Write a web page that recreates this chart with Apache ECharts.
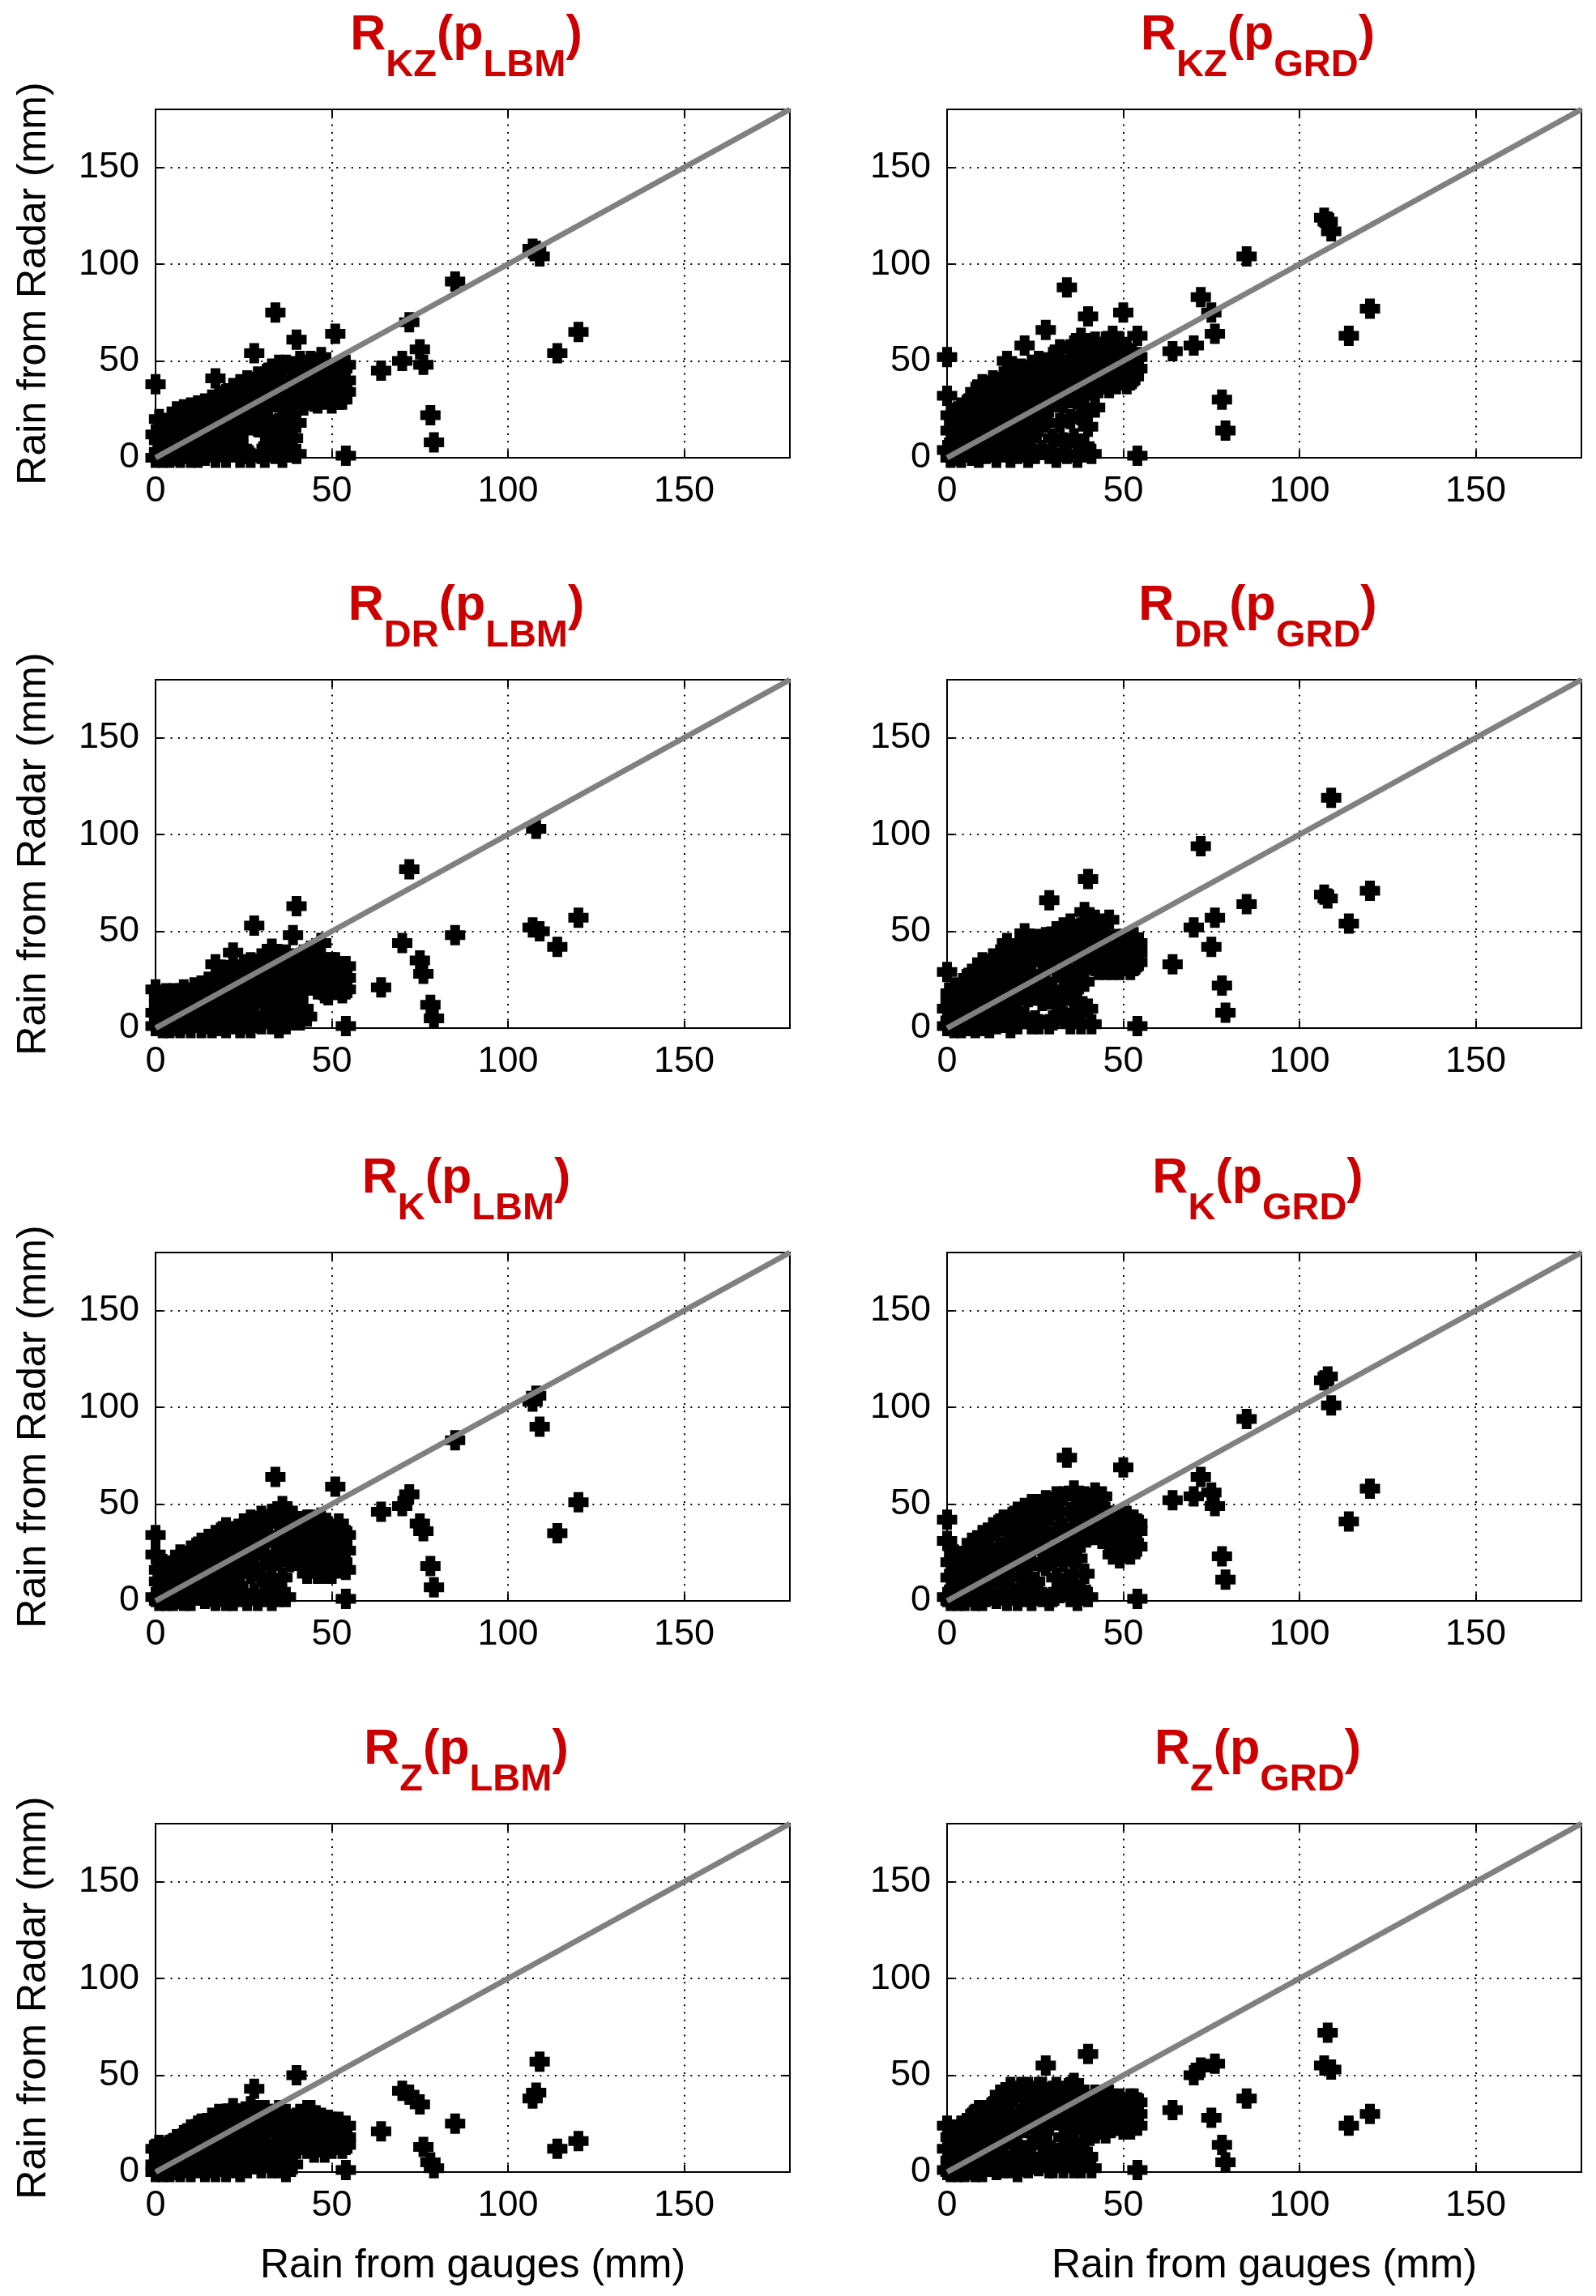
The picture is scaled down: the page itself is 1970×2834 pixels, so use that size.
<!DOCTYPE html>
<html>
<head>
<meta charset="utf-8">
<script src="https://cdn.jsdelivr.net/npm/echarts@6/dist/echarts.min.js"></script>
<style>html,body{margin:0;padding:0;background:#fff;}#chart{width:1970px;height:2834px;}</style>
</head>
<body>
<div id="chart"></div>
<script>
// Gauge rain (mm), shared by all panels (three gauges per mm value in the dense part, then outliers)
const gauges = [
  0,0,0, 1,1,1, 2,2,2, 3,3,3, 4,4,4, 5,5,5, 6,6,6, 7,7,7, 8,8,8, 9,9,9,
  10,10,10, 11,11,11, 12,12,12, 13,13,13, 14,14,14, 15,15,15, 16,16,16, 17,17,17, 18,18,18, 19,19,19,
  20,20,20, 21,21,21, 22,22,22, 23,23,23, 24,24,24, 25,25,25, 26,26,26, 27,27,27, 28,28,28, 29,29,29,
  30,30,30, 31,31,31, 32,32,32, 33,33,33, 34,34,34, 35,35,35, 36,36,36, 37,37,37, 38,38,38, 39,39,39,
  40,40,40, 41,41,41, 42,42,42, 43,43,43, 44,44,44, 45,45,45, 46,46,46, 47,47,47, 48,48,48, 49,49,49,
  50,50,50, 51,51,51, 52,52,52, 53,53,53, 54,54,54,
  54,64,70,72,75,76,78,79,85,107,108,109,114,120
];
// Radar rain (mm) per panel, same order as gauges
const radarKzLbm = [
  38,12,0, 3,20,9, 15,0,6, 18,10,2, 4,14,0, 20,8,1, 12,24,3, 0,17,8, 25,6,14, 2,20,11,
  16,0,26, 8,22,4, 27,13,0, 5,18,24, 10,1,28, 22,14,4, 30,8,18, 41,0,24, 12,32,3, 26,6,18,
  0,33,14, 22,9,30, 36,3,16, 11,26,32, 0,20,38, 35,14,4, 2,24,40, 30,18,0, 54,38,22, 16,30,42,
  2,26,40, 34,13,0, 44,20,6, 46,12,30, 75,38,2, 18,48,8, 40,26,0, 48,14,32, 4,36,22, 45,10,28,
  61,2,18, 40,50,30, 44,34,27, 48,38,30, 32,42,50, 36,47,29, 28,44,38, 52,34,42, 30,46,38, 40,33,45,
  28,36,46, 64,40,32, 44,30,38, 36,46,30, 48,40,34,
  1,45,50,70,56,48,22,8,91,108,107,104,54,65
];
const radarKzGrd = [
  52,32,4, 14,0,22, 8,18,1, 24,4,12, 0,16,26, 10,22,3, 28,6,15, 1,20,30, 12,34,5, 24,0,18,
  8,32,38, 16,2,26, 36,11,22, 4,28,40, 18,0,34, 10,26,38, 42,3,20, 50,14,30, 0,24,44, 34,8,18,
  2,40,28, 22,46,12, 58,30,6, 0,38,18, 48,24,10, 34,2,44, 16,50,28, 4,40,22, 66,34,18, 48,26,2,
  10,38,52, 30,0,44, 56,18,36, 8,48,28, 88,40,2, 20,56,34, 58,10,44, 30,50,0, 62,22,40, 6,54,32,
  73,16,46, 2,58,38, 48,60,26, 40,52,36, 56,44,38, 60,40,50, 46,58,36, 63,42,52, 38,56,46, 44,60,40,
  75,50,42, 56,46,38, 40,54,48, 50,42,44, 63,46,52,
  1,55,58,83,75,64,30,14,104,124,122,117,63,77
];
const radarDrLbm = [
  20,8,1, 12,3,16, 0,10,5, 14,2,18, 7,16,0, 11,3,18, 1,14,7, 18,9,0, 5,20,12, 15,2,8,
  0,17,11, 21,6,13, 3,15,19, 10,0,22, 17,5,12, 2,24,9, 14,22,0, 33,6,18, 1,25,12, 20,8,28,
  0,16,26, 10,30,4, 39,20,2, 13,27,6, 30,0,18, 8,33,22, 2,15,28, 25,34,0, 53,20,14, 4,30,16,
  36,24,2, 12,31,20, 26,6,35, 41,16,2, 28,10,36, 0,22,38, 32,14,6, 38,24,2, 18,30,10, 48,4,36,
  63,22,12, 32,26,4, 38,20,10, 28,36,6, 40,30,22, 34,26,38, 20,32,28, 44,24,30, 26,34,18, 30,17,24,
  22,34,28, 34,20,26, 28,22,32, 30,18,24, 26,32,20,
  1,21,44,82,35,28,12,5,48,52,103,50,42,57
];
const radarDrGrd = [
  29,10,1, 18,4,14, 0,21,8, 12,2,19, 6,16,0, 22,10,3, 1,26,14, 18,6,28, 9,0,22, 30,14,4,
  34,20,1, 8,26,14, 0,32,18, 24,6,36, 12,30,2, 38,20,8, 4,28,36, 44,14,24, 0,34,18, 26,8,40,
  14,38,2, 30,20,42, 49,6,26, 16,36,44, 2,28,40, 42,18,4, 24,46,2, 34,14,40, 47,24,16, 66,36,2,
  44,20,4, 30,50,12, 14,40,48, 52,26,6, 36,46,18, 54,2,28, 20,44,8, 48,30,14, 40,2,52, 60,24,34,
  77,10,44, 52,38,2, 46,32,56, 40,50,30, 54,36,44, 48,30,40, 56,42,34, 30,44,38, 40,32,46, 30,42,36,
  36,46,32, 44,34,40, 34,42,30, 47,38,32, 39,44,34,
  1,33,52,94,42,57,22,8,64,69,67,119,54,71
];
const radarKLbm = [
  34,24,2, 10,0,16, 5,19,12, 0,14,7, 18,3,10, 15,8,0, 1,21,12, 16,5,24, 9,0,19, 22,14,3,
  0,26,10, 18,6,24, 3,28,14, 30,10,20, 1,16,26, 32,7,20, 12,28,2, 24,34,0, 6,18,30, 36,12,2,
  24,0,38, 16,30,6, 36,22,0, 8,28,34, 33,14,2, 40,20,4, 0,30,38, 42,14,24, 32,4,18, 38,26,0,
  44,12,30, 24,40,2, 10,34,42, 45,18,0, 64,30,8, 22,40,2, 49,12,32, 36,2,44, 28,40,20, 44,24,34,
  40,30,22, 32,24,38, 38,28,18, 30,42,14, 42,20,34, 20,36,28, 36,14,26, 43,22,30, 14,34,26, 28,18,38,
  22,30,14, 59,24,34, 18,28,40, 30,20,36, 26,34,16,
  1,46,49,55,40,36,18,7,83,103,106,90,35,51
];
const radarKGrd = [
  42,31,2, 12,0,20, 6,24,14, 0,18,9, 22,4,14, 19,10,0, 2,26,14, 20,7,30, 12,0,24, 29,16,4,
  0,34,20, 26,10,2, 4,34,18, 38,12,24, 1,22,36, 40,9,28, 16,42,3, 30,0,36, 12,40,24, 44,4,30,
  20,46,0, 34,12,44, 2,28,48, 40,18,6, 50,26,0, 36,10,46, 4,30,50, 42,20,2, 52,34,18, 0,44,26,
  50,22,2, 36,12,54, 28,46,4, 54,20,38, 74,32,8, 46,2,26, 57,36,14, 22,44,0, 50,30,6, 40,14,54,
  34,2,48, 46,36,52, 40,56,34, 50,38,44, 42,32,54, 36,46,40, 30,44,38, 38,24,44, 28,40,34, 22,36,44,
  69,30,40, 44,26,36, 32,42,24, 42,30,36, 36,28,40,
  1,52,54,64,56,49,23,11,94,114,116,101,41,58
];
const radarZLbm = [
  12,4,0, 8,14,2, 0,10,5, 13,3,8, 6,0,14, 15,9,2, 1,12,17, 8,0,16, 19,4,11, 2,14,20,
  10,22,0, 17,6,12, 2,20,24, 25,9,14, 12,0,20, 5,24,16, 28,10,2, 20,0,27, 14,30,4, 24,9,18,
  0,30,14, 26,6,20, 33,16,2, 10,26,30, 0,18,27, 30,8,22, 2,26,16, 34,12,24, 43,28,4, 18,32,8,
  2,24,30, 14,32,20, 26,6,30, 28,12,2, 30,20,8, 2,24,32, 26,14,6, 30,20,0, 10,26,18, 27,4,22,
  50,12,28, 30,22,14, 28,18,24, 24,32,12, 32,20,26, 18,28,10, 26,14,22, 22,28,16, 16,24,10, 27,18,22,
  20,12,26, 14,24,18, 26,16,22, 22,12,18, 18,24,14,
  1,21,42,40,35,13,5,2,25,38,41,57,12,16
];
const radarZGrd = [
  24,12,1, 6,18,0, 14,2,22, 0,10,19, 24,5,14, 15,0,8, 1,22,12, 28,6,16, 12,0,30, 20,32,4,
  0,26,14, 32,8,20, 3,28,16, 34,12,22, 1,36,18, 8,28,40, 36,16,2, 40,22,6, 2,30,44, 14,38,24,
  0,42,20, 44,8,30, 10,38,24, 26,2,44, 34,14,42, 40,4,22, 3,30,44, 44,18,8, 55,36,14, 24,2,40,
  42,28,2, 10,34,44, 28,8,40, 42,18,2, 38,28,6, 44,14,30, 46,2,22, 36,10,28, 2,24,40, 40,16,32,
  61,8,36, 36,26,2, 40,30,20, 28,38,22, 38,26,32, 28,36,20, 34,24,40, 32,24,38, 24,34,28, 38,30,24,
  28,36,22, 36,26,32, 22,30,38, 38,26,32, 30,36,24,
  1,32,50,54,28,56,14,5,38,55,72,53,24,30
];
const panelRadar = [radarKzLbm, radarKzGrd, radarDrLbm, radarDrGrd, radarKLbm, radarKGrd, radarZLbm, radarZGrd];
const titleMain = ['KZ','KZ','DR','DR','K','K','Z','Z'];
const titleSub = ['LBM','GRD','LBM','GRD','LBM','GRD','LBM','GRD'];
const oneToOne = [[0,0],[180,180]];
const xAxisName = 'Rain from gauges (mm)';
const yAxisName = 'Rain from Radar (mm)';

const FONT = 'Liberation Sans, Arial, Helvetica, sans-serif';
const colLeft = [192, 1169];
const rowTop = [135, 839, 1546, 2251];
const W = 783, H = 430;
const plusPath = 'path://M2.6,0H7.4V2.6H10V7.4H7.4V10H2.6V7.4H0V2.6H2.6Z';

const grids = [], xAxes = [], yAxes = [], series = [], titles = [];
for (let i = 0; i < 8; i++) {
  const col = i % 2, row = Math.floor(i / 2);
  grids.push({left: colLeft[col], top: rowTop[row], width: W, height: H,
    show: true, borderColor: '#000', borderWidth: 2, backgroundColor: 'rgba(0,0,0,0)'});
  const tick = {show: true, inside: true, length: 9, lineStyle: {color: '#000', width: 2}};
  const line = {show: true, onZero: false, lineStyle: {color: '#000', width: 2}};
  const lbl = {show: true, fontSize: 45, color: '#000', fontFamily: FONT,
    showMaxLabel: false, formatter: v => (v === 180 ? '' : String(v))};
  const split = {show: true, lineStyle: {color: '#000', width: 2, type: [2, 7.3]}};
  xAxes.push({gridIndex: i, type: 'value', min: 0, max: 180, interval: 50, position: 'bottom',
    axisLine: line, axisTick: tick, axisLabel: Object.assign({margin: 19}, lbl), splitLine: split,
    name: row === 3 ? xAxisName : '', nameLocation: 'middle', nameGap: 91,
    nameTextStyle: {fontSize: 50, color: '#000', fontFamily: FONT}});
  xAxes.push({gridIndex: i, type: 'value', min: 0, max: 180, interval: 50, position: 'top',
    axisLine: line, axisTick: tick, axisLabel: {show: false}, splitLine: {show: false}});
  yAxes.push({gridIndex: i, type: 'value', min: 0, max: 180, interval: 50, position: 'left',
    axisLine: line, axisTick: tick, axisLabel: Object.assign({margin: 20}, lbl), splitLine: split,
    name: col === 0 ? yAxisName : '', nameLocation: 'middle', nameGap: 125,
    nameTextStyle: {fontSize: 50, color: '#000', fontFamily: FONT}});
  yAxes.push({gridIndex: i, type: 'value', min: 0, max: 180, interval: 50, position: 'right',
    axisLine: line, axisTick: tick, axisLabel: {show: false}, splitLine: {show: false}});
  const radar = panelRadar[i];
  series.push({type: 'scatter', xAxisIndex: 2 * i, yAxisIndex: 2 * i,
    data: gauges.map((g, k) => [g, radar[k]]),
    symbol: plusPath, symbolSize: 25, itemStyle: {color: '#000', opacity: 1}, z: 2, silent: true});
  series.push({type: 'line', xAxisIndex: 2 * i, yAxisIndex: 2 * i, data: oneToOne,
    symbol: 'none', lineStyle: {color: '#808080', width: 7}, z: 3, silent: true});
  titles.push({text: '{r|R}{s|' + titleMain[i] + '}{r|(p}{s|' + titleSub[i] + '}{r|)}',
    left: colLeft[col] + W / 2 - 8, top: rowTop[row] - 121, textAlign: 'center', padding: 0,
    textStyle: {rich: {
      r: {fontSize: 61, fontWeight: 'bold', color: '#CC0000', fontFamily: FONT, verticalAlign: 'top'},
      s: {fontSize: 47, fontWeight: 'bold', color: '#CC0000', fontFamily: FONT, verticalAlign: 'top', padding: [44, 0, 0, 0]}
    }}});
}

const chart = echarts.init(document.getElementById('chart'), null, {renderer: 'canvas'});
chart.setOption({
  backgroundColor: '#fff',
  animation: false,
  title: titles,
  grid: grids,
  xAxis: xAxes,
  yAxis: yAxes,
  series: series
});
</script>
</body>
</html>
